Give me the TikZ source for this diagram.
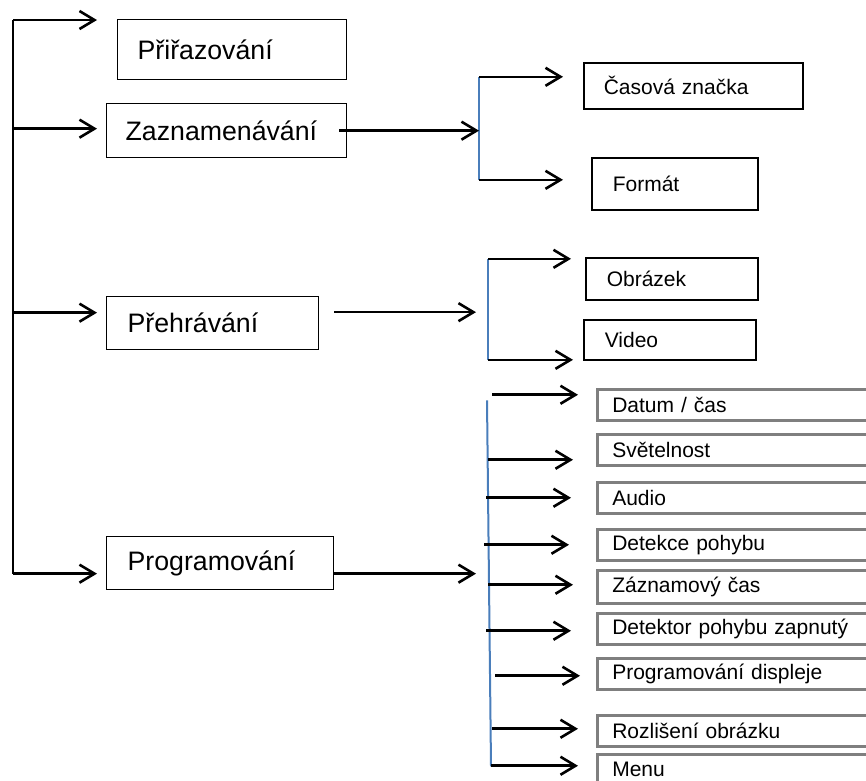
\documentclass[tikz,border=0pt]{standalone}
\usepackage{fontspec}
\setmainfont{Liberation Sans}
\usetikzlibrary{arrows.meta}
\definecolor{blueline}{HTML}{4A7EBB}
\definecolor{itemgray}{HTML}{7F7F7F}

\begin{document}
\begin{tikzpicture}[x=1pt,y=-1pt]
\tikzstyle{every node}=[anchor=north west,align=left]
\tikzstyle{arr}=[-{Straight Barb[length=15pt,width=18pt]},line width=2.6pt]
\tikzstyle{mainbox}=[draw,line width=1.3pt,font=\fontsize{26.7}{30}\selectfont]
\tikzstyle{subbox}=[draw,line width=1.6pt,font=\fontsize{21}{24}\selectfont]
\tikzstyle{itembox}=[draw=itemgray,line width=2.5pt,inner xsep=15pt,text width=274pt,minimum height=31pt,font=\fontsize{21}{24}\selectfont]
\tikzstyle{bluebar}=[draw=blueline,line width=2pt]
\clip (0,0) rectangle (866,780);

% hlavni boxy
\node[mainbox,inner xsep=20pt,text width=189pt,minimum height=60pt] (prir) at (117,19) {Přiřazování};
\node[mainbox,inner xsep=19pt,text width=202pt,minimum height=54pt] (zazn) at (106,103) {Zaznamenávání};
\node[mainbox,inner xsep=21pt,text width=170pt,minimum height=53pt] (preh) at (106,296) {Přehrávání};
\node[mainbox,inner xsep=21pt,text width=185pt,minimum height=53pt] (prog) at (106,536) {Programování};

\node[subbox,inner xsep=20pt,text width=179pt,minimum height=46pt] (cas) at (583,62) {Časová značka};
\node[subbox,inner xsep=21pt,text width=124pt,minimum height=52pt] (fmt) at (591,157) {Formát};
\node[subbox,inner xsep=21pt,text width=130pt,minimum height=42pt] (obr) at (585,257) {Obrázek};
\node[subbox,inner xsep=21pt,text width=130pt,minimum height=40pt] (vid) at (583,319) {Video};

\node[itembox] (dat) at (596,388) {Datum / čas};
\node[itembox] (svet) at (596,433) {Světelnost};
\node[itembox] (aud) at (596,481) {Audio};
\node[itembox] (det) at (596,528) {Detekce pohybu};
\node[itembox,minimum height=33pt] (zc) at (596,569) {Záznamový čas};
\node[itembox] (dz) at (596,612) {Detektor pohybu zapnutý};
\node[itembox] (pd) at (596,657) {Programování displeje};
\node[itembox] (roz) at (596,714) {Rozlišení obrázku};
\node[itembox] (men) at (596,753) {Menu};

% levy kmen
\coordinate (j1) at (13,20);
\coordinate (prir-in) at ([shift={(-20pt,-1pt)}]prir.north west);
\coordinate (zazn-in) at ([shift={(-9pt,2pt)}]zazn.west);
\coordinate (preh-in) at ([shift={(-9pt,10.5pt)}]preh.west);
\coordinate (prog-in) at ([shift={(-9pt,-10.5pt)}]prog.west);
\draw[line width=2.6pt] (j1) -- (prog-in -| j1);
\draw[arr] (j1) -- (prir-in);
\draw[arr] (zazn-in -| j1) -- (zazn-in);
\draw[arr] (preh-in -| j1) -- (preh-in);
\draw[arr] (prog-in -| j1) -- (prog-in);

% Zaznamenavani
\coordinate (z1) at ([shift={(-104pt,9pt)}]cas.west);
\coordinate (z2) at ([shift={(-112pt,4pt)}]fmt.west);
\draw[bluebar] (z1) -- (z2);
\draw[arr] ([xshift=-8pt]zazn.east) -- (zazn.east -| z1);
\draw[arr] (z1) -- ([shift={(-20pt,9pt)}]cas.west);
\draw[arr] (z2) -- ([shift={(-28pt,4pt)}]fmt.west);

% Prehravani
\coordinate (p1) at ([shift={(-97pt,20pt)}]obr.west);
\coordinate (p2) at ([shift={(-95pt,-20pt)}]vid.west);
\coordinate (preh-out) at ([shift={(15pt,11pt)}]preh.east);
\draw[bluebar] (p1) -- (p2);
\draw[arr,shorten >=12pt] (preh-out) -- (preh-out -| p1);
\draw[arr] (p1) -- ([shift={(-14pt,20pt)}]obr.west);
\draw[arr] (p2) -- ([shift={(-10pt,-20pt)}]vid.west);

% Programovani
\coordinate (q1) at ([shift={(-109pt,4.5pt)}]dat.west);
\coordinate (q2) at ([shift={(-105pt,3.5pt)}]men.west);
\coordinate (prog-out) at ([yshift=-10.5pt]prog.east);
\draw[bluebar] (q1) -- (q2);
\draw[arr,shorten >=11pt] (prog-out) -- (prog-out -| q1);
\foreach \n/\dy/\sx/\ex in {dat/10/104/18, svet/-10/108/23, aud/0/110/25, det/0/112/27, zc/2/108/23, dz/-2/110/25, pd/-2/101/16, roz/2/104/18, men/4/105/18}
  \draw[arr] ([shift={(-\sx pt,\dy pt)}]\n.west) -- ([shift={(-\ex pt,\dy pt)}]\n.west);
\end{tikzpicture}
\end{document}
